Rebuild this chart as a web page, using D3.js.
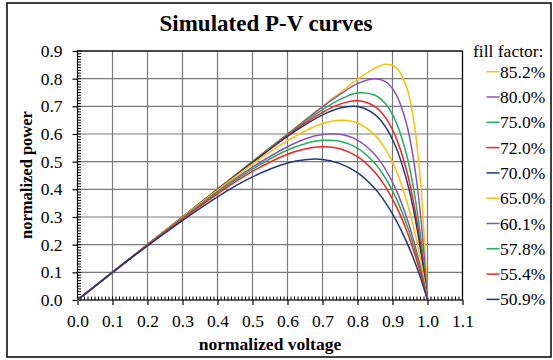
<!DOCTYPE html>
<html>
<head>
<meta charset="utf-8">
<script src="https://cdn.jsdelivr.net/npm/d3@7"></script>
<style>
  body { margin: 0; background: #fff; }
  text { font-family: "Liberation Serif", "Times New Roman", serif; }
</style>
</head>
<body>
<div id="chart"></div>
<script>
// legend labels, one per curve
var fillFactors = ["85.2%", "80.0%", "75.0%", "72.0%", "70.0%", "65.0%", "60.1%", "57.8%", "55.4%", "50.9%"];

// sampled voltages (shared by every curve)
var voltage = [0, 0.2, 0.4, 0.5, 0.6, 0.65, 0.7, 0.75, 0.8, 0.85, 0.88, 0.91, 0.94, 0.96, 0.98, 1.0];

// normalized power
var p852 = [0, 0.200, 0.400, 0.500, 0.600, 0.650, 0.700, 0.749, 0.797, 0.838, 0.852, 0.841, 0.771, 0.654, 0.427, 0];
var p800 = [0, 0.200, 0.400, 0.500, 0.600, 0.649, 0.698, 0.743, 0.782, 0.800, 0.789, 0.744, 0.637, 0.509, 0.308, 0];
var p750 = [0, 0.200, 0.400, 0.500, 0.598, 0.645, 0.688, 0.725, 0.748, 0.740, 0.709, 0.644, 0.526, 0.404, 0.234, 0];
var p720 = [0, 0.200, 0.400, 0.498, 0.594, 0.639, 0.678, 0.708, 0.720, 0.699, 0.659, 0.587, 0.469, 0.354, 0.202, 0];
var p700 = [0, 0.200, 0.399, 0.497, 0.591, 0.633, 0.669, 0.694, 0.699, 0.670, 0.626, 0.552, 0.435, 0.326, 0.183, 0];
var p650 = [0, 0.200, 0.397, 0.491, 0.576, 0.611, 0.638, 0.650, 0.640, 0.596, 0.545, 0.470, 0.360, 0.265, 0.146, 0];
var p601 = [0, 0.199, 0.392, 0.480, 0.554, 0.582, 0.598, 0.599, 0.578, 0.525, 0.472, 0.399, 0.300, 0.217, 0.118, 0];
var p578 = [0, 0.199, 0.389, 0.473, 0.542, 0.565, 0.577, 0.574, 0.549, 0.493, 0.440, 0.369, 0.275, 0.198, 0.107, 0];
var p554 = [0, 0.198, 0.384, 0.465, 0.527, 0.546, 0.554, 0.547, 0.518, 0.461, 0.409, 0.340, 0.252, 0.180, 0.097, 0];
var p509 = [0, 0.196, 0.373, 0.445, 0.495, 0.507, 0.508, 0.493, 0.460, 0.402, 0.352, 0.289, 0.211, 0.150, 0.080, 0];

var colors = ["#ffc000", "#8b52bd", "#1fb15a", "#ff1f1f", "#1f3a7a",
              "#ffc000", "#8b52bd", "#1fb15a", "#ff1f1f", "#1f3a7a"];

var xTicks = [0, 0.1, 0.2, 0.3, 0.4, 0.5, 0.6, 0.7, 0.8, 0.9, 1.0, 1.1];
var yTicks = [0, 0.1, 0.2, 0.3, 0.4, 0.5, 0.6, 0.7, 0.8, 0.9];

var powers = [p852, p800, p750, p720, p700, p650, p601, p578, p554, p509];
var series = fillFactors.map(function (ff, i) {
  return { label: ff, color: colors[i], values: powers[i] };
});

var width = 553,
    height = 360;

var svg = d3.select("#chart").append("svg")
  .attr("width", width)
  .attr("height", height);

// outer frame
svg.append("rect")
  .attr("x", 7).attr("y", 3)
  .attr("width", 544).attr("height", 354)
  .attr("fill", "#fff")
  .attr("stroke", "#000")
  .attr("stroke-width", 1.5);

var x = d3.scaleLinear().domain([0, 1.1]).range([77.5, 462.5]);
var y = d3.scaleLinear().domain([0, 0.9]).range([300, 51]);

// grid
var grid = svg.append("g").attr("stroke", "#7a7a7a").attr("stroke-width", 1.2);
grid.selectAll(".gx").data(xTicks.slice(1)).enter().append("line")
  .attr("x1", function (d) { return x(d); }).attr("x2", function (d) { return x(d); })
  .attr("y1", y(0)).attr("y2", y(0.9));
grid.selectAll(".gy").data(yTicks.slice(1)).enter().append("line")
  .attr("x1", x(0)).attr("x2", x(1.1))
  .attr("y1", function (d) { return y(d); }).attr("y2", function (d) { return y(d); });

// plot frame
svg.append("rect")
  .attr("x", x(0)).attr("y", y(0.9))
  .attr("width", x(1.1) - x(0)).attr("height", y(0) - y(0.9))
  .attr("fill", "none")
  .attr("stroke", "#000")
  .attr("stroke-width", 1.2);

// minor ticks
var minor = svg.append("g").attr("stroke", "#000").attr("stroke-width", 1);
minor.selectAll(".mx").data(d3.range(0, 111)).enter().append("line")
  .attr("x1", function (d) { return x(d / 100); }).attr("x2", function (d) { return x(d / 100); })
  .attr("y1", y(0)).attr("y2", y(0) - 3.5);
minor.selectAll(".my").data(d3.range(0, 91)).enter().append("line")
  .attr("x1", x(0)).attr("x2", x(0) + 3.5)
  .attr("y1", function (d) { return y(d / 100); }).attr("y2", function (d) { return y(d / 100); });

// axes
var xAxis = svg.append("g")
  .attr("transform", "translate(0," + y(0) + ")")
  .call(d3.axisBottom(x).tickValues(xTicks).tickFormat(d3.format(".1f")).tickSize(5).tickPadding(10));
var yAxis = svg.append("g")
  .attr("transform", "translate(" + x(0) + ",0)")
  .call(d3.axisLeft(y).tickValues(yTicks).tickFormat(d3.format(".1f")).tickSize(5).tickPadding(10));

[xAxis, yAxis].forEach(function (a) {
  a.select(".domain").remove();
  a.selectAll(".tick line").attr("stroke", "#000").attr("stroke-width", 1.2);
  a.selectAll(".tick text")
    .attr("fill", "#000")
    .style("font-family", "'Liberation Serif', serif")
    .style("font-size", "17.5px");
});

// curves
var line = d3.line()
  .x(function (d, i) { return x(voltage[i]); })
  .y(function (d) { return y(d); })
  .curve(d3.curveCatmullRom.alpha(0.5));

svg.append("g").selectAll("path").data(series).enter().append("path")
  .attr("d", function (s) { return line(s.values); })
  .attr("fill", "none")
  .attr("stroke", function (s) { return s.color; })
  .attr("stroke-width", 1.5);

// titles
svg.append("text")
  .attr("x", 266).attr("y", 31)
  .attr("text-anchor", "middle")
  .style("font-size", "23px").style("font-weight", "bold")
  .text("Simulated P-V curves");

svg.append("text")
  .attr("x", 270).attr("y", 350)
  .attr("text-anchor", "middle")
  .style("font-size", "17.5px").style("font-weight", "bold")
  .text("normalized voltage");

svg.append("text")
  .attr("transform", "translate(32,175) rotate(-90)")
  .attr("text-anchor", "middle")
  .style("font-size", "16.5px").style("font-weight", "bold")
  .text("normalized power");

// legend
svg.append("text")
  .attr("x", 473).attr("y", 57)
  .style("font-size", "17.5px")
  .text("fill factor:");

var legend = svg.append("g").selectAll("g").data(series).enter().append("g")
  .attr("transform", function (s, i) { return "translate(0," + (71.7 + i * 25.3) + ")"; });
legend.append("line")
  .attr("x1", 486.5).attr("x2", 499.5)
  .attr("stroke", function (s) { return s.color; })
  .attr("stroke-width", 1.5);
legend.append("text")
  .attr("x", 500).attr("y", 6)
  .style("font-size", "17.5px")
  .text(function (s) { return s.label; });
</script>
</body>
</html>
